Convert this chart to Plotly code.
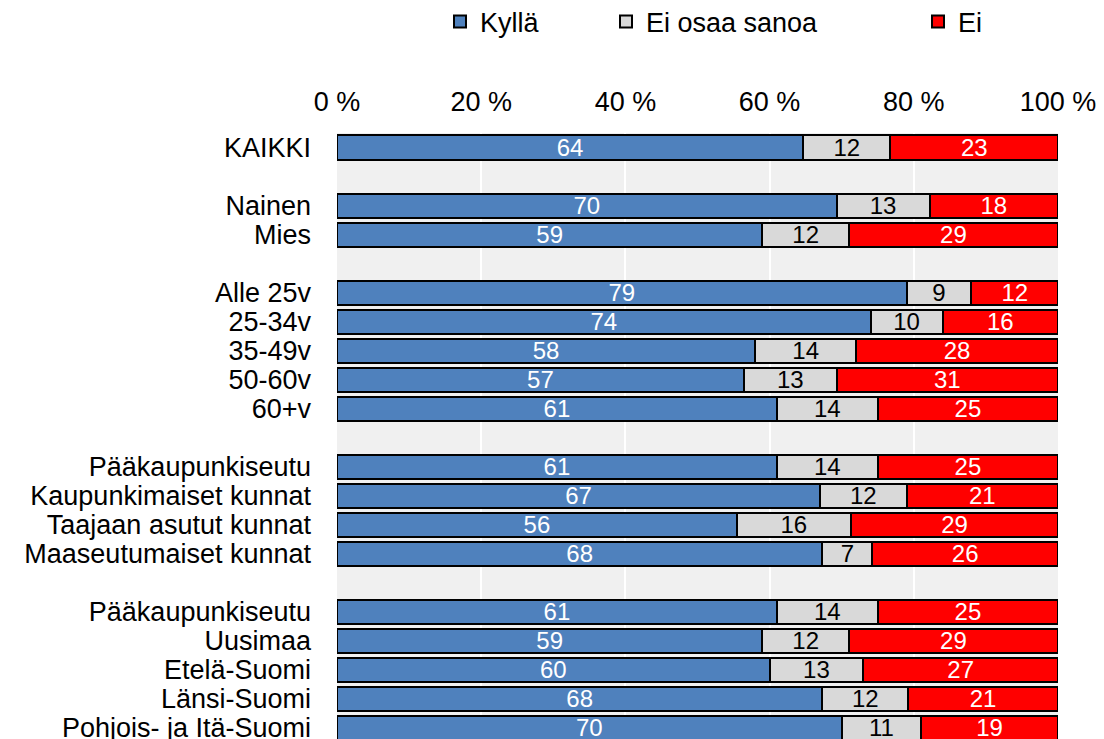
import plotly.graph_objects as go

categories = ["KAIKKI", "Nainen", "Mies", "Alle 25v", "25-34v", "35-49v", "50-60v", "60+v",
              "Pääkaupunkiseutu", "Kaupunkimaiset kunnat", "Taajaan asutut kunnat", "Maaseutumaiset kunnat",
              "Pääkaupunkiseutu", "Uusimaa", "Etelä-Suomi", "Länsi-Suomi", "Pohjois- ja Itä-Suomi"]
# row positions (blank rows separate the groups)
rows = [0, 2, 3, 5, 6, 7, 8, 9, 11, 12, 13, 14, 16, 17, 18, 19, 20]

kylla = [64, 70, 59, 79, 74, 58, 57, 61, 61, 67, 56, 68, 61, 59, 60, 68, 70]
eos = [12, 13, 12, 9, 10, 14, 13, 14, 14, 12, 16, 7, 14, 12, 13, 12, 11]
ei = [23, 18, 29, 12, 16, 28, 31, 25, 25, 21, 29, 26, 25, 29, 27, 21, 19]

series = [("Kyllä", kylla, "#4f81bd", "white", "legend"),
          ("Ei osaa sanoa", eos, "#d9d9d9", "black", "legend2"),
          ("Ei", ei, "#ff0000", "white", "legend3")]

tick_vals = [0, 20, 40, 60, 80, 100]
tick_text = ["0 %", "20 %", "40 %", "60 %", "80 %", "100 %"]

FONT = "Liberation Sans, Arial, sans-serif"

fig = go.Figure()
for name, vals, color, tcolor, lg in series:
    fig.add_trace(go.Bar(
        name=name, y=rows, x=vals, orientation="h",
        marker=dict(color=color, line=dict(color="black", width=2)),
        text=[str(v) for v in vals], texttemplate="%{text}",
        textposition="inside", insidetextanchor="middle", textangle=0,
        constraintext="none",
        insidetextfont=dict(color=tcolor, size=24, family=FONT),
        legend=lg, showlegend=True, hoverinfo="skip",
    ))

legend_common = dict(orientation="h", font=dict(size=27, family=FONT, color="black"),
                     xref="container", yref="container", yanchor="middle", xanchor="left",
                     y=1 - 22 / 739, itemwidth=30, bgcolor="rgba(0,0,0,0)", tracegroupgap=0,
                     visible=True)

fig.update_layout(
    width=1104, height=739,
    margin=dict(l=337, r=46, t=133, b=0),
    showlegend=True,
    barmode="stack", barnorm="percent", bargap=0.17,
    plot_bgcolor="#f0f0f0", paper_bgcolor="white",
    font=dict(family=FONT, size=27, color="black"),
    legend=dict(legend_common, x=440 / 1104),
    legend2=dict(legend_common, x=606 / 1104),
    legend3=dict(legend_common, x=918 / 1104),
    xaxis=dict(side="top", range=[0, 100], tickvals=tick_vals, ticktext=tick_text,
               showgrid=True, gridcolor="white", gridwidth=2, zeroline=False,
               showline=False, ticks="", ticklabelstandoff=16, ticklabeloverflow="allow",
               automargin=False,
               tickfont=dict(size=27, family=FONT, color="black")),
    yaxis=dict(range=[20.38, -0.5], tickvals=rows, ticktext=categories,
               showgrid=False, zeroline=False, showline=False, ticks="",
               ticklabelstandoff=25, ticklabeloverflow="allow", automargin=False,
               tickfont=dict(size=27, family=FONT, color="black")),
)

fig.write_html("out.html", config={"displayModeBar": False},
               post_script="document.body.style.margin='0';document.body.style.overflow='hidden';")
